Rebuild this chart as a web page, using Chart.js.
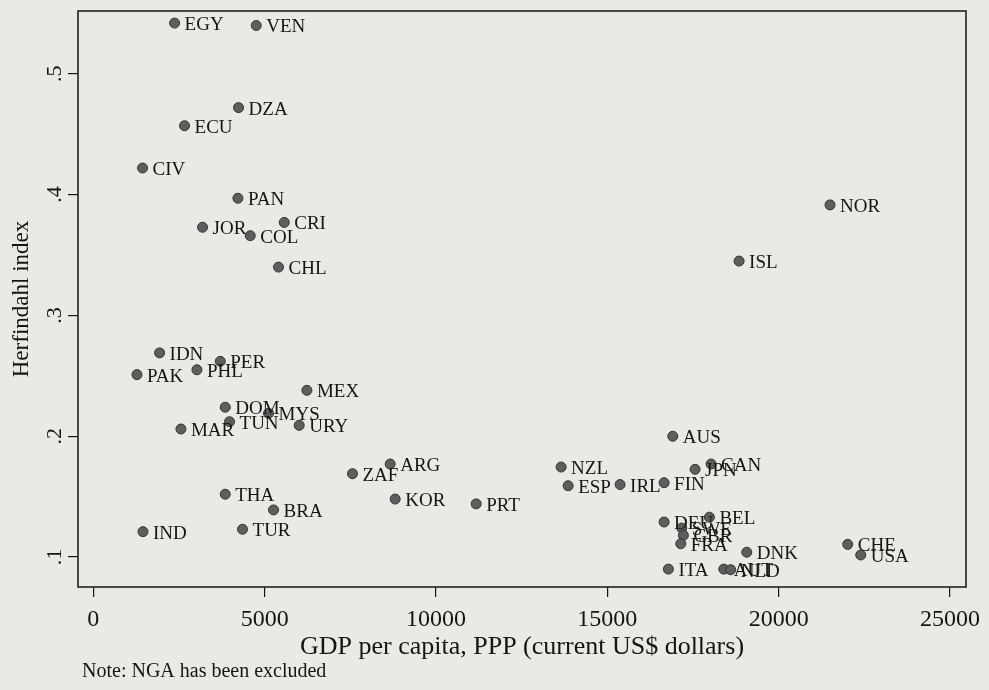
<!DOCTYPE html>
<html>
<head>
<meta charset="utf-8">
<script src="https://cdn.jsdelivr.net/npm/chart.js@4.4.0/dist/chart.umd.min.js"></script>
<style>
  body { margin: 0; background: #eaeae5; }
  canvas { display: block; }
</style>
</head>
<body>
<canvas id="scatter" width="989" height="690"></canvas>
<script>
// country codes, GDP per capita (PPP) and Herfindahl index
const countries = ['EGY', 'VEN', 'DZA', 'ECU', 'CIV', 'PAN', 'JOR', 'COL', 'CRI', 'CHL',
    'IDN', 'PER', 'PAK', 'PHL', 'MEX', 'DOM', 'MYS', 'TUN', 'URY', 'MAR',
    'ZAF', 'ARG', 'THA', 'BRA', 'TUR', 'IND', 'KOR', 'PRT', 'NZL', 'ESP',
    'IRL', 'FIN', 'AUS', 'JPN', 'CAN', 'DEU', 'BEL', 'SWE', 'GBR', 'FRA',
    'DNK', 'ITA', 'AUT', 'NLD', 'CHE', 'USA', 'NOR', 'ISL'];
const gdp = [2372, 4755, 4239, 2663, 1438, 4221, 3188, 4580, 5572, 5405,
    1934, 3705, 1275, 3025, 6234, 3851, 5114, 3976, 6009, 2558,
    7564, 8664, 3851, 5260, 4355, 1450, 8810, 11173, 13652, 13857,
    15373, 16657, 16910, 17561, 18028, 16657, 17979, 17173, 17220, 17144,
    19069, 16783, 18400, 18600, 22016, 22395, 21499, 18845];
const herf = [0.542, 0.540, 0.472, 0.457, 0.422, 0.397, 0.373, 0.366, 0.377, 0.340,
    0.269, 0.262, 0.251, 0.255, 0.238, 0.224, 0.219, 0.212, 0.209, 0.206,
    0.169, 0.177, 0.152, 0.139, 0.123, 0.121, 0.148, 0.144, 0.1745, 0.159,
    0.160, 0.1615, 0.200, 0.1726, 0.177, 0.129, 0.133, 0.124, 0.118, 0.111,
    0.104, 0.090, 0.090, 0.0895, 0.1105, 0.1017, 0.3915, 0.345];

const xTicks = [0, 5000, 10000, 15000, 20000, 25000];
const yTicks = [0.1, 0.2, 0.3, 0.4, 0.5];

const ink = '#141414';
const serif = 'Liberation Serif';

const points = gdp.map((g, i) => ({ x: g, y: herf[i] }));

// plot frame (Stata draws a full box round the plot region)
const framePlugin = {
    id: 'frame',
    afterDraw(chart) {
        const { ctx, chartArea: a } = chart;
        ctx.save();
        ctx.strokeStyle = ink;
        ctx.lineWidth = 1.5;
        ctx.strokeRect(a.left, a.top, a.right - a.left, a.bottom - a.top);
        ctx.restore();
    }
};

// country code to the right of each marker
const markerLabels = {
    id: 'markerLabels',
    afterDatasetsDraw(chart) {
        const { ctx } = chart;
        const meta = chart.getDatasetMeta(0);
        ctx.save();
        ctx.font = '19px "' + serif + '"';
        ctx.fillStyle = ink;
        ctx.textBaseline = 'middle';
        meta.data.forEach((el, i) => {
            ctx.fillText(countries[i], el.x + 10, el.y + 2);
        });
        ctx.restore();
    }
};

// y tick labels are rotated in the original, plus the footnote
const yLabels = {
    id: 'yLabels',
    afterDraw(chart) {
        const { ctx } = chart;
        const y = chart.scales.y;
        ctx.save();
        ctx.font = '22px "' + serif + '"';
        ctx.fillStyle = ink;
        ctx.textAlign = 'center';
        ctx.textBaseline = 'alphabetic';
        yTicks.forEach(v => {
            ctx.save();
            ctx.translate(61, y.getPixelForValue(v));
            ctx.rotate(-Math.PI / 2);
            ctx.fillText(String(v).replace(/^0/, ''), 0, 0);
            ctx.restore();
        });
        ctx.font = '20px "' + serif + '"';
        ctx.textAlign = 'left';
        ctx.textBaseline = 'middle';
        ctx.fillText('Note: NGA has been excluded', 82, 672);
        ctx.restore();
    }
};

new Chart(document.getElementById('scatter'), {
    type: 'scatter',
    data: {
        datasets: [{
            data: points,
            backgroundColor: '#5e5e5e',
            borderColor: '#333333',
            borderWidth: 1,
            pointRadius: 5,
            pointHoverRadius: 5
        }]
    },
    options: {
        responsive: false,
        animation: false,
        devicePixelRatio: 1,
        layout: { padding: { top: 11, right: 23, left: 0, bottom: 0 } },
        plugins: { legend: { display: false }, tooltip: { enabled: false } },
        scales: {
            x: {
                type: 'linear',
                min: -446,
                max: 25467,
                afterBuildTicks: s => { s.ticks = xTicks.map(v => ({ value: v })); },
                afterFit: s => { s.height = 103; },
                grid: { drawOnChartArea: false, drawTicks: true, tickLength: 10, color: ink, lineWidth: 1.2 },
                border: { display: false },
                ticks: {
                    color: ink,
                    padding: 8,
                    maxRotation: 0,
                    font: { family: serif, size: 24 },
                    callback: v => String(v)
                },
                title: {
                    display: true,
                    text: 'GDP per capita, PPP (current US$ dollars)',
                    color: ink,
                    font: { family: serif, size: 26 },
                    padding: { top: 0, bottom: 27 }
                }
            },
            y: {
                type: 'linear',
                min: 0.0752,
                max: 0.552,
                afterBuildTicks: s => { s.ticks = yTicks.map(v => ({ value: v })); },
                afterFit: s => { s.width = 78; },
                grid: { drawOnChartArea: false, drawTicks: true, tickLength: 10, color: ink, lineWidth: 1.2 },
                border: { display: false },
                ticks: { display: false },
                title: {
                    display: true,
                    text: 'Herfindahl index',
                    color: ink,
                    font: { family: serif, size: 23 },
                    padding: { top: 8, bottom: 0 }
                }
            }
        }
    },
    plugins: [framePlugin, markerLabels, yLabels]
});
</script>
</body>
</html>
